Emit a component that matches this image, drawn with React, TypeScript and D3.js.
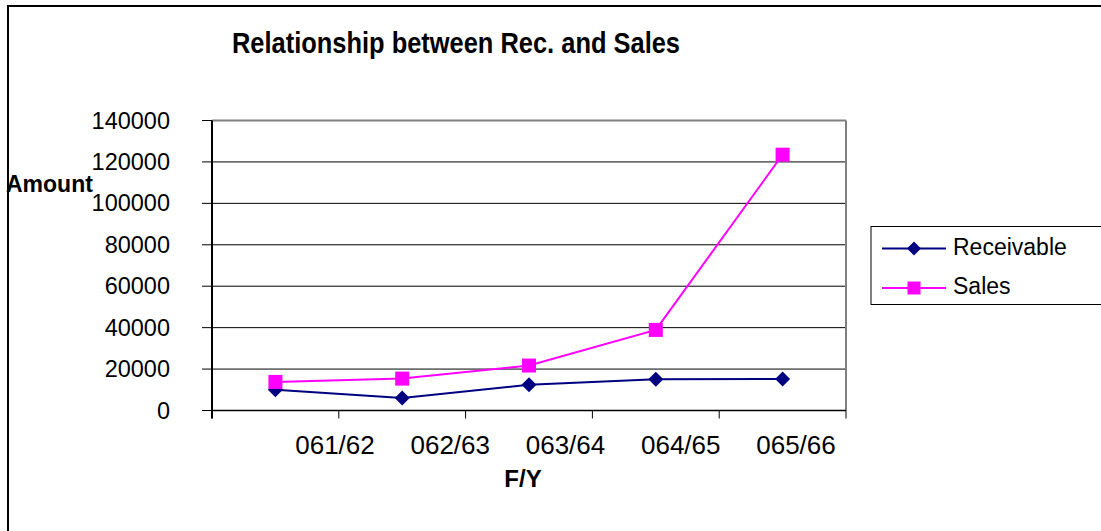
import React from "react";
import * as d3 from "d3";

// Fiscal years on the category axis
const categories = ["061/62", "062/63", "063/64", "064/65", "065/66"];
// Series values (amounts)
const receivable = [10000, 6000, 12400, 15100, 15200];
const sales = [13800, 15400, 21700, 38900, 123500];
// Value-axis ticks
const yTicks = [0, 20000, 40000, 60000, 80000, 100000, 120000, 140000];

const W = 1101;
const H = 531;
const FONT = "'Liberation Sans', Arial, Helvetica, sans-serif";
const NAVY = "#000080";
const MAGENTA = "#FF00FF";

const plot = { left: 212, right: 846, top: 120.5, bottom: 410.5 };

export default function App() {
  const x = d3
    .scaleBand<string>()
    .domain(categories)
    .range([plot.left, plot.right])
    .padding(0);
  const y = d3.scaleLinear().domain([0, 140000]).range([plot.bottom, plot.top]);
  // category labels sit in their own slightly compressed band
  const xLabel = d3.scalePoint<string>().domain(categories).range([335, 796]);

  const cx = (c: string) => (x(c) as number) + x.bandwidth() / 2;
  const line = d3
    .line<number>()
    .x((_, i) => cx(categories[i]))
    .y((d) => y(d));

  const xTickPos = [...categories.map((c) => x(c) as number), plot.right];

  const diamond = (px: number, py: number, r: number) =>
    `M${px},${py - r}L${px + r},${py}L${px},${py + r}L${px - r},${py}Z`;

  const legendRows = [
    { name: "Receivable", color: NAVY, marker: "diamond" },
    { name: "Sales", color: MAGENTA, marker: "square" },
  ];
  const legendY = d3.scalePoint<string>().domain(legendRows.map((r) => r.name)).range([248.5, 288]);

  return (
    <svg
      width={W}
      height={H}
      style={{ position: "absolute", left: 0, top: 0, background: "#fff" }}
      fontFamily={FONT}
    >
      {/* chart area frame */}
      <rect x={8} y={6} width={W + 20} height={H + 20} fill="#fff" stroke="#000" strokeWidth={2} />

      {/* title */}
      <text
        x={456}
        y={53}
        textAnchor="middle"
        fontSize={30}
        fontWeight="bold"
        textLength={448}
        lengthAdjust="spacingAndGlyphs"
      >
        Relationship between Rec. and Sales
      </text>

      {/* gridlines */}
      {yTicks.slice(1).map((t) => (
        <line key={"g" + t} x1={plot.left} x2={plot.right} y1={y(t)} y2={y(t)} stroke="#000" strokeWidth={1} />
      ))}

      {/* plot border (top and right) */}
      <line x1={plot.left} x2={plot.right} y1={plot.top} y2={plot.top} stroke="#808080" strokeWidth={2} />
      <line x1={plot.right} x2={plot.right} y1={plot.top} y2={plot.bottom} stroke="#808080" strokeWidth={2} />

      {/* value axis */}
      <line x1={plot.left} x2={plot.left} y1={plot.top} y2={plot.bottom + 8} stroke="#000" strokeWidth={2} />
      {yTicks.map((t) => (
        <g key={"y" + t}>
          <line x1={plot.left - 10} x2={plot.left} y1={y(t)} y2={y(t)} stroke="#000" strokeWidth={1} />
          <text x={170} y={y(t) + 8} textAnchor="end" fontSize={23.5} fill="#000">
            {t}
          </text>
        </g>
      ))}

      {/* category axis */}
      <line x1={plot.left} x2={plot.right} y1={plot.bottom} y2={plot.bottom} stroke="#000" strokeWidth={1.5} />
      {xTickPos.map((p, i) => (
        <line key={"xt" + i} x1={p} x2={p} y1={plot.bottom} y2={plot.bottom + 8} stroke="#000" strokeWidth={1} />
      ))}
      {categories.map((c) => (
        <text key={"xl" + c} x={xLabel(c)} y={454} textAnchor="middle" fontSize={26} fill="#000">
          {c}
        </text>
      ))}

      {/* axis titles */}
      <text x={6} y={192} fontSize={23} fontWeight="bold">
        Amount
      </text>
      <text x={523} y={487} textAnchor="middle" fontSize={24} fontWeight="bold">
        F/Y
      </text>

      {/* series lines */}
      <path d={line(receivable) ?? ""} fill="none" stroke={NAVY} strokeWidth={2} />
      <path d={line(sales) ?? ""} fill="none" stroke={MAGENTA} strokeWidth={2} />

      {/* markers */}
      {receivable.map((v, i) => (
        <path key={"rm" + i} d={diamond(cx(categories[i]), y(v), 7.5)} fill={NAVY} />
      ))}
      {sales.map((v, i) => (
        <rect key={"sm" + i} x={cx(categories[i]) - 7} y={y(v) - 7} width={14} height={14} fill={MAGENTA} />
      ))}

      {/* legend */}
      <rect x={871} y={226.5} width={260} height={78} fill="#fff" stroke="#000" strokeWidth={1} />
      {legendRows.map((r) => {
        const ly = legendY(r.name) as number;
        return (
          <g key={"lg" + r.name}>
            <line x1={882} x2={946} y1={ly} y2={ly} stroke={r.color} strokeWidth={2} />
            {r.marker === "diamond" ? (
              <path d={diamond(914, ly, 7)} fill={r.color} />
            ) : (
              <rect x={907.5} y={ly - 6.5} width={13} height={13} fill={r.color} />
            )}
            <text x={953} y={ly + 6} fontSize={23} fill="#000">
              {r.name}
            </text>
          </g>
        );
      })}
    </svg>
  );
}
